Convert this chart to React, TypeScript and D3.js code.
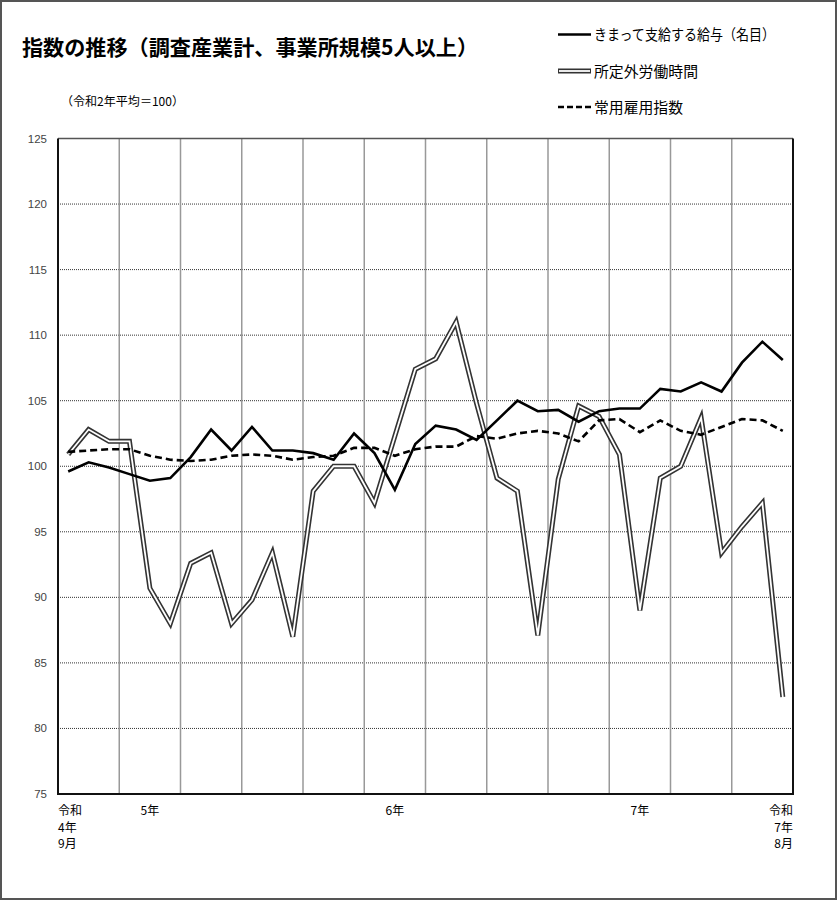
import * as d3 from 'd3';
import React, { useEffect, useRef } from 'react';

// 令和4年9月 ～ 令和7年8月（36か月）
const months = d3.range(36).map((i) => `m${i}`);

// きまって支給する給与（名目）
const wages = [
  99.6, 100.3, 99.9, 99.4, 98.9, 99.1, 100.7, 102.8, 101.2, 103.0, 101.2, 101.2,
  101.0, 100.5, 102.5, 101.0, 98.2, 101.7, 103.1, 102.8, 102.0, 103.5, 105.0, 104.2,
  104.3, 103.4, 104.2, 104.4, 104.4, 105.9, 105.7, 106.4, 105.7, 107.9, 109.5, 108.1,
];

// 所定外労働時間
const overtime = [
  100.9, 102.8, 101.9, 101.9, 90.7, 88.0, 92.6, 93.4, 88.0, 89.8, 93.4, 87.0,
  98.1, 100.0, 100.0, 97.2, 102.3, 107.4, 108.2, 111.0, 104.8, 99.1, 98.1, 87.1,
  99.0, 104.6, 103.8, 100.9, 89.0, 99.1, 100.0, 103.7, 93.4, 95.4, 97.2, 82.4,
];

// 常用雇用指数
const employment = [
  101.1, 101.2, 101.3, 101.3, 100.8, 100.5, 100.4, 100.5, 100.8, 100.9, 100.8, 100.5,
  100.7, 100.8, 101.4, 101.4, 100.8, 101.3, 101.5, 101.5, 102.3, 102.1, 102.5, 102.7,
  102.5, 101.9, 103.5, 103.6, 102.6, 103.5, 102.7, 102.4, 103.0, 103.6, 103.5, 102.7,
];

const yTicks = [75, 80, 85, 90, 95, 100, 105, 110, 115, 120, 125];

// x軸ラベル（月の位置, 行）
const xLabels: [number, string[]][] = [
  [0, ['令和', '4年', '9月']],
  [4, ['5年']],
  [16, ['6年']],
  [28, ['7年']],
  [35, ['令和', '7年', '8月']],
];

const legendItems = ['きまって支給する給与（名目）', '所定外労働時間', '常用雇用指数'];

const jp = '"Noto Sans CJK JP", sans-serif';

const App = () => {
  const svgRef = useRef(null);

  useEffect(() => {
    const svg = d3.select(svgRef.current);
    svg.selectAll('*').remove();

    const left = 58;
    const right = 793;
    const top = 138.5;
    const bottom = 794;

    const x = d3.scaleBand().domain(months).range([left, right]).padding(0);
    const y = d3.scaleLinear().domain([75, 125]).range([bottom, top]);
    const cx = (i: number) => (x(months[i]) as number) + x.bandwidth() / 2;

    // frame
    svg
      .append('rect')
      .attr('x', 1)
      .attr('y', 1)
      .attr('width', 835)
      .attr('height', 898)
      .attr('fill', '#fff')
      .attr('stroke', '#555')
      .attr('stroke-width', 2);

    // title
    svg
      .append('text')
      .attr('x', 22)
      .attr('y', 55)
      .attr('textLength', 456)
      .attr('lengthAdjust', 'spacingAndGlyphs')
      .style('font-family', jp)
      .style('font-weight', 'bold')
      .style('font-size', '21px')
      .text('指数の推移（調査産業計、事業所規模5人以上）');

    svg
      .append('text')
      .attr('x', 61)
      .attr('y', 106)
      .attr('textLength', 123)
      .attr('lengthAdjust', 'spacingAndGlyphs')
      .style('font-family', jp)
      .style('font-size', '12px')
      .text('（令和2年平均＝100）');

    // legend
    const legendY = [34.5, 71, 107];
    const legendW = [181, 104, 89];
    legendItems.forEach((label, i) => {
      const g = svg.append('g');
      if (i === 1) {
        g.append('line')
          .attr('x1', 558).attr('x2', 591).attr('y1', legendY[i]).attr('y2', legendY[i])
          .attr('stroke', '#333').attr('stroke-width', 5);
        g.append('line')
          .attr('x1', 559).attr('x2', 590).attr('y1', legendY[i]).attr('y2', legendY[i])
          .attr('stroke', '#fff').attr('stroke-width', 1.8);
      } else {
        g.append('line')
          .attr('x1', 558).attr('x2', 591).attr('y1', legendY[i]).attr('y2', legendY[i])
          .attr('stroke', '#000').attr('stroke-width', 2.6)
          .attr('stroke-dasharray', i === 2 ? '6,3' : null);
      }
      g.append('text')
        .attr('x', 594)
        .attr('y', legendY[i] + 5.5)
        .attr('textLength', legendW[i])
        .attr('lengthAdjust', 'spacingAndGlyphs')
        .style('font-family', jp)
        .style('font-size', '15px')
        .text(label);
    });

    // horizontal grid (dotted)
    svg
      .append('g')
      .selectAll('line')
      .data(yTicks.slice(1, -1))
      .enter()
      .append('line')
      .attr('x1', left)
      .attr('x2', right)
      .attr('y1', (d) => y(d))
      .attr('y2', (d) => y(d))
      .attr('stroke', '#333')
      .attr('stroke-width', 1)
      .attr('stroke-dasharray', '1,1');

    // vertical grid every 3 months
    svg
      .append('g')
      .selectAll('line')
      .data(d3.range(3, 36, 3))
      .enter()
      .append('line')
      .attr('x1', (d) => x(months[d]) as number)
      .attr('x2', (d) => x(months[d]) as number)
      .attr('y1', top)
      .attr('y2', bottom)
      .attr('stroke', '#999')
      .attr('stroke-width', 1.5);

    // plot border
    svg
      .append('line')
      .attr('x1', left).attr('x2', right).attr('y1', top).attr('y2', top)
      .attr('stroke', '#555').attr('stroke-width', 1.5);
    svg
      .append('path')
      .attr('d', `M${left},${top}V${bottom}H${right}V${top}`)
      .attr('fill', 'none')
      .attr('stroke', '#111')
      .attr('stroke-width', 2);

    // y tick labels
    svg
      .append('g')
      .selectAll('text')
      .data(yTicks)
      .enter()
      .append('text')
      .attr('x', 47)
      .attr('y', (d) => y(d) + 4)
      .attr('text-anchor', 'end')
      .style('font-family', '"Liberation Sans", Arial, sans-serif')
      .style('font-size', '11.5px')
      .style('fill', '#444')
      .text((d) => d);

    // x labels
    xLabels.forEach(([i, lines]) => {
      let anchor = 'middle';
      let tx = cx(i);
      if (i === 0) {
        anchor = 'start';
        tx = x(months[i]) as number;
      } else if (i === months.length - 1) {
        anchor = 'end';
        tx = (x(months[i]) as number) + x.bandwidth();
      }
      lines.forEach((s, k) => {
        svg
          .append('text')
          .attr('x', tx)
          .attr('y', 815 + k * 16.5)
          .attr('text-anchor', anchor)
          .style('font-family', jp)
          .style('font-size', '12px')
          .text(s);
      });
    });

    const line = d3
      .line<number>()
      .x((_, i) => cx(i))
      .y((d) => y(d));

    // 所定外労働時間 (double line)
    svg
      .append('path')
      .datum(overtime)
      .attr('d', line)
      .attr('fill', 'none')
      .attr('stroke', '#333')
      .attr('stroke-width', 5)
      .attr('stroke-linejoin', 'miter');
    svg
      .append('path')
      .datum(overtime)
      .attr('d', line)
      .attr('fill', 'none')
      .attr('stroke', '#fff')
      .attr('stroke-width', 1.8)
      .attr('stroke-linejoin', 'miter');

    // 常用雇用指数 (dashed)
    svg
      .append('path')
      .datum(employment)
      .attr('d', line)
      .attr('fill', 'none')
      .attr('stroke', '#000')
      .attr('stroke-width', 2.6)
      .attr('stroke-dasharray', '7,4');

    // きまって支給する給与 (solid)
    svg
      .append('path')
      .datum(wages)
      .attr('d', line)
      .attr('fill', 'none')
      .attr('stroke', '#000')
      .attr('stroke-width', 2.6);
  }, []);

  return (
    <svg
      ref={svgRef}
      width={837}
      height={900}
      style={{ position: 'absolute', left: 0, top: 0 }}
    />
  );
};

export default App;
